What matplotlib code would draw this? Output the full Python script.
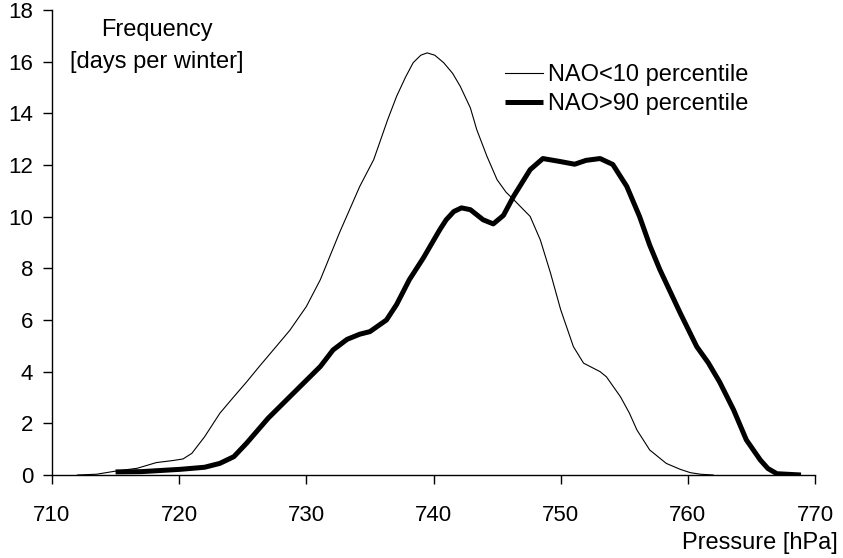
import matplotlib.pyplot as plt

plt.rcParams['font.family'] = ['Liberation Sans', 'DejaVu Sans']

# NAO < 10 percentile (thin line)
low_p = [712.0, 713.5, 715.0, 716.7, 718.2, 719.5, 720.3, 721.0, 722.0, 723.2,
         724.3, 725.3, 726.3, 727.4, 728.7, 730.0, 731.1, 732.6, 734.2, 735.3,
         736.4, 737.1, 737.8, 738.4, 739.0, 739.5, 740.1, 740.8, 741.5, 742.1,
         742.9, 743.4, 744.2, 745.0, 745.7, 746.3, 747.6, 748.4, 749.2, 750.0,
         751.0, 751.8, 753.1, 753.6, 754.7, 755.4, 756.0, 757.0, 758.3, 759.4,
         760.2, 761.0, 762.0]
low_f = [0.0, 0.03, 0.15, 0.26, 0.48, 0.56, 0.62, 0.84, 1.48, 2.39,
         3.03, 3.6, 4.2, 4.84, 5.6, 6.52, 7.56, 9.37, 11.17, 12.21,
         13.76, 14.66, 15.4, 15.96, 16.25, 16.34, 16.25, 15.96, 15.55, 15.05,
         14.21, 13.37, 12.34, 11.43, 10.95, 10.66, 10.01, 9.1, 7.82, 6.4,
         4.97, 4.33, 4.0, 3.8, 3.03, 2.4, 1.74, 0.97, 0.45, 0.22,
         0.09, 0.03, 0.0]

# NAO > 90 percentile (thick line)
high_p = [715.0, 717.0, 720.1, 722.0, 723.2, 724.3, 725.3, 727.0, 728.7, 730.3,
          731.1, 732.1, 733.2, 734.2, 735.0, 736.3, 737.1, 738.1, 739.2, 740.5,
          741.0, 741.6, 742.2, 742.9, 743.9, 744.7, 745.5, 746.3, 747.6, 748.6,
          749.9, 751.1, 752.0, 753.1, 754.1, 755.2, 756.2, 757.0, 757.8, 759.4,
          760.7, 761.6, 762.5, 763.6, 764.6, 765.7, 766.3, 767.0, 768.9]
high_f = [0.12, 0.13, 0.22, 0.30, 0.45, 0.71, 1.23, 2.2, 3.03, 3.81,
          4.2, 4.84, 5.25, 5.45, 5.55, 6.0, 6.6, 7.56, 8.4, 9.5,
          9.88, 10.2, 10.34, 10.27, 9.88, 9.72, 10.05, 10.79, 11.82, 12.25,
          12.14, 12.03, 12.18, 12.25, 12.02, 11.17, 10.01, 8.9, 7.95, 6.27,
          4.97, 4.35, 3.6, 2.52, 1.36, 0.58, 0.25, 0.05, 0.0]

fig = plt.figure(figsize=(8.43, 5.58), dpi=100)
ax = fig.add_axes([52/843, 1-475/558, (815-52)/843, (475-10)/558])

ax.plot(low_p, low_f, color='black', lw=0.8, label='NAO<10 percentile')
ax.plot(high_p, high_f, color='black', lw=3.6, solid_capstyle='butt',
        solid_joinstyle='round', label='NAO>90 percentile')

ax.set_xlim(710, 770)
ax.set_ylim(0, 18)
ax.set_xticks(range(710, 771, 10))
ax.set_yticks(range(0, 19, 2))
for s in ['top', 'right']:
    ax.spines[s].set_visible(False)
for s in ['left', 'bottom']:
    ax.spines[s].set_linewidth(1.0)
ax.tick_params(axis='both', direction='out', length=6.5, width=1.0,
               labelsize=16)
ax.tick_params(axis='y', pad=7)
ax.tick_params(axis='x', pad=15)

fig.text(157/843, 1-30/558, 'Frequency', ha='center', va='center', fontsize=17)
fig.text(157/843, 1-62/558, '[days per winter]', ha='center', va='center', fontsize=17)
fig.text(838/843, 1-543/558, 'Pressure [hPa]', ha='right', va='center', fontsize=17)

ax.legend(loc='upper left', bbox_to_anchor=(505/843, 1-64/558),
          bbox_transform=fig.transFigure, frameon=False, fontsize=17,
          handlelength=1.6, handletextpad=0.2, borderpad=0, borderaxespad=0,
          labelspacing=0.3)

fig.savefig('out.png', dpi=100)
